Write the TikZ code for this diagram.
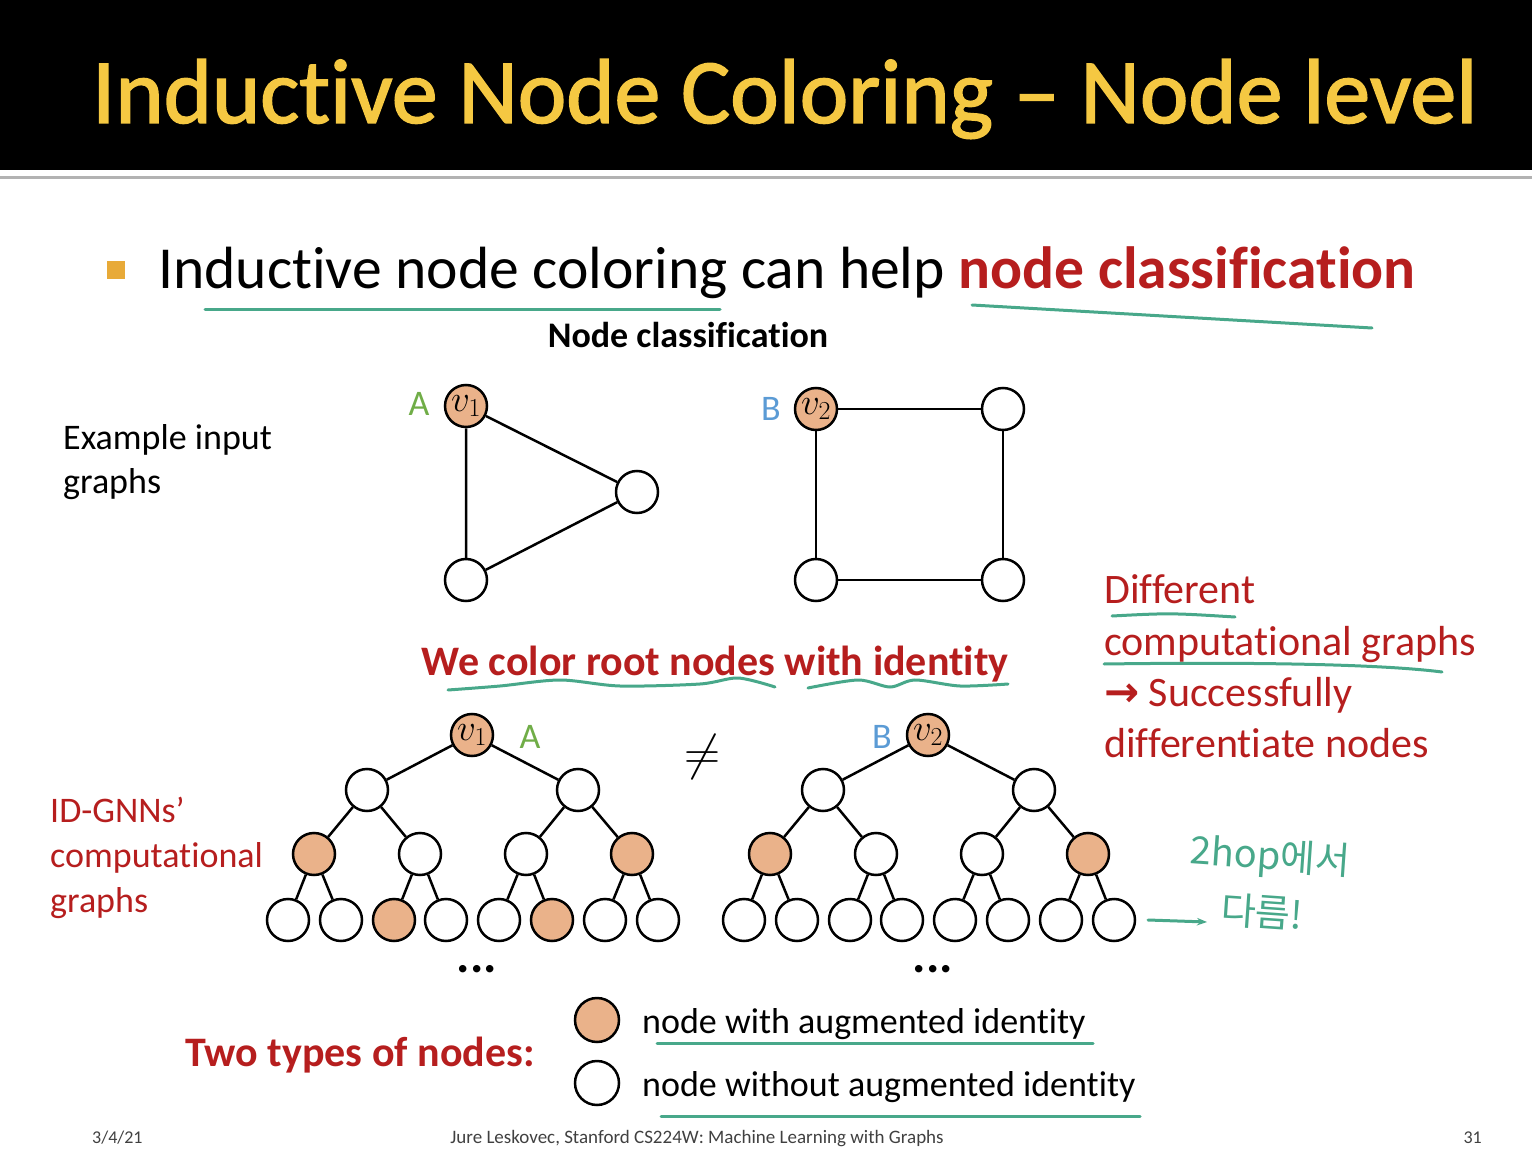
\documentclass[tikz,border=0pt]{standalone}
\usepackage{fix-cm}
\usepackage{fontspec}
\setmainfont{Carlito}[Ligatures={NoCommon,NoContextual,NoRequired},Contextuals=NoAlternate,RawFeature={-liga;-dlig;-calt}]
\newfontfamily\titlefont{Carlito}[Ligatures={NoCommon,NoContextual},Contextuals=NoAlternate,RawFeature={-liga;-calt;embolden=1.6}]
\newfontfamily\symfont{DejaVu Sans}
\newfontfamily\krfont{Noto Sans CJK KR}
\usetikzlibrary{arrows.meta}
\definecolor{titlegold}{RGB}{245,200,66}
\definecolor{slidered}{RGB}{182,30,30}
\definecolor{idfill}{RGB}{234,178,138}
\definecolor{penteal}{RGB}{72,168,138}
\definecolor{labgreen}{RGB}{112,173,71}
\definecolor{labblue}{RGB}{91,155,213}
\definecolor{bulletgold}{RGB}{232,170,56}
\newcommand\fs[1]{\fontsize{#1}{#1}\selectfont}

\begin{document}
\begin{tikzpicture}[x=1pt,y=-1pt,
    txt/.style={anchor=base west,inner sep=0pt},
    plain/.style={circle,draw,line width=2.5pt,minimum size=42pt,inner sep=0pt,fill=white},
    idnode/.style={plain,fill=idfill},
    edge/.style={line width=2.5pt},
    pen/.style={penteal,line width=3pt,line cap=round}]
  \useasboundingbox (0,0) rectangle (1532,1150);
  % title bar
  \fill[black] (0,0) rectangle (1532,170);
  \draw[black!30,line width=3pt] (0,178) -- (1532,178);
  \node[txt,text=titlegold,font=\titlefont\fs{92}] (title) at (92,123) {Inductive Node Coloring – Node level};
  \fill[bulletgold] (107,261) rectangle (125,279);
  \node[txt,font=\fs{59.6}] (intro) at (158,289) {Inductive node coloring can help \textcolor{slidered}{\bfseries node classification}};
  \node[anchor=base,inner sep=0pt,font=\bfseries\fs{36}] (head) at (688,348) {Node classification};
  \node[txt,font=\fs{36}] (ex1) at (63,449) {Example input};
  \node[txt,font=\fs{36}] (ex2) at (63,493) {graphs};
  \draw[pen] (205,310) -- (720,310);
  \draw[pen] (972,305) -- (1372,328);

  % input graphs
  \node[idnode,font=\fs{37}] (g1a) at (466,406) {$v_1$};
  \node[plain] (g1b) at (637,492) {};
  \node[plain] (g1c) at (466,580) {};
  \draw[edge] (g1a) -- (g1b) -- (g1c) -- (g1a);
  \node[idnode,font=\fs{37}] (g2a) at (816,409) {$v_2$};
  \node[plain] (g2b) at (1003,409) {};
  \node[plain] (g2c) at (1003,580) {};
  \node[plain] (g2d) at (816,580) {};
  \draw[edge] (g2a) -- (g2b) -- (g2c) -- (g2d) -- (g2a);
  \node[text=labgreen,font=\fs{36}] (labA) at (419,404) {A};
  \node[text=labblue,font=\fs{36}] (labB) at (771,409) {B};

  \node[anchor=base,inner sep=0pt,text=slidered,font=\bfseries\fs{42}] (color) at (715,675) {We color root nodes with identity};
  \draw[pen] plot[smooth] coordinates {(448,690) (500,686) (560,680) (620,686) (700,684) (738,678) (775,687)};
  \draw[pen] plot[smooth] coordinates {(808,688) (858,680) (890,687) (915,680) (960,686) (1008,684)};

  % computational graphs
  \foreach \t/\rx/\v/\lab/\lx/\lc/\hs in {1/472/1/A/530/labgreen/idnode, 2/928/2/B/882/labblue/plain} {
    \pgfmathsetmacro{\off}{\rx-472}
    \node[idnode,font=\fs{37}] (t\t r) at (\rx,735) {$v_\v$};
    \node[text=\lc,font=\fs{36}] (t\t lab) at (\lx,737) {\lab};
    \foreach \i/\x in {1/367,2/578}
      \node[plain] (t\t a\i) at (\x+\off,790) {};
    \foreach \i/\x/\s in {1/314/idnode,2/420/plain,3/526/plain,4/632/idnode}
      \node[\s] (t\t b\i) at (\x+\off,854) {};
    \foreach \i/\x/\s in {1/288/plain,2/341/plain,3/394/\hs,4/446/plain,5/499/plain,6/552/\hs,7/605/plain,8/658/plain}
      \node[\s] (t\t c\i) at (\x+\off,920) {};
    \foreach \i in {1,2} \draw[edge] (t\t r) -- (t\t a\i);
    \foreach \i/\p in {1/1,2/1,3/2,4/2} \draw[edge] (t\t a\p) -- (t\t b\i);
    \foreach \i/\p in {1/1,2/1,3/2,4/2,5/3,6/3,7/4,8/4} \draw[edge] (t\t b\p) -- (t\t c\i);
    \node[anchor=base,inner sep=0pt,font=\bfseries\fs{50}] (t\t dots) at (\rx+5,972) {...};
  }
  \node[font=\fs{50}] (neq) at (702,757) {$\neq$};

  \node[txt,text=slidered,font=\fs{36}] (idg1) at (50,822) {ID-GNNs’};
  \node[txt,text=slidered,font=\fs{36}] (idg2) at (50,867) {computational};
  \node[txt,text=slidered,font=\fs{36}] (idg3) at (50,912) {graphs};

  % right remark
  \node[txt,text=slidered,font=\fs{42}] (rem1) at (1104,603) {Different};
  \node[txt,text=slidered,font=\fs{42}] (rem2) at (1104,655) {computational graphs};
  \node[txt,text=slidered,font=\fs{42}] (rem3) at (1104,706) {{\symfont\bfseries →} Successfully};
  \node[txt,text=slidered,font=\fs{42}] (rem4) at (1104,757) {differentiate nodes};
  \draw[pen] (1112,616) .. controls (1170,613) .. (1235,617);
  \draw[pen] (1104,664) .. controls (1250,662) and (1380,664) .. (1442,672);

  % handwritten note
  \node[text=penteal,font=\krfont\fs{38},rotate=-4] (note1) at (1270,858) {2hop에서};
  \node[text=penteal,font=\krfont\fs{38},rotate=-4] (note2) at (1262,912) {다름!};
  \coordinate (arrtail) at (1148,920);
  \draw[pen,-{Stealth[length=10pt]}] (arrtail) -- (1207,922);

  % legend
  \node[txt,text=slidered,font=\bfseries\fs{42}] (types) at (185,1066) {Two types of nodes:};
  \node[idnode,minimum size=44pt] (leg1) at (597,1020) {};
  \node[plain,minimum size=44pt] (leg2) at (597,1083) {};
  \node[txt,font=\fs{36}] (legt1) at (642,1033) {node with augmented identity};
  \node[txt,font=\fs{36}] (legt2) at (642,1096) {node without augmented identity};
  \draw[pen] (657,1043) -- (1093,1043);
  \draw[pen] (661,1116) -- (1140,1116);

  % footer
  \node[txt,text=black!75,font=\fs{18}] (date) at (92,1143) {3/4/21};
  \node[anchor=base,inner sep=0pt,text=black!75,font=\fs{19}] (foot) at (697,1143) {Jure Leskovec, Stanford CS224W: Machine Learning with Graphs};
  \node[anchor=base east,inner sep=0pt,text=black!75,font=\fs{18}] (page) at (1482,1143) {31};
\end{tikzpicture}
\end{document}
